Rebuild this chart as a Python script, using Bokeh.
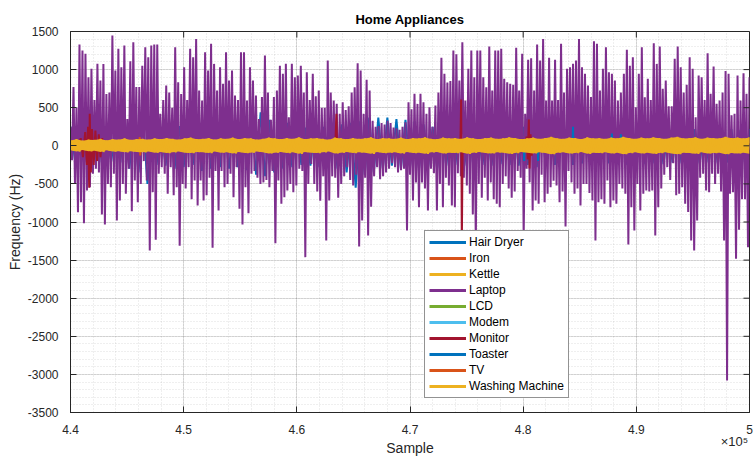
import numpy as np
from bokeh.plotting import figure
from bokeh.models import Range1d, FixedTicker, Legend, LegendItem, LinearAxis
from bokeh.embed import file_html
from bokeh.resources import INLINE

SAMPLE_START = 440000
SAMPLE_END = 500000
Y_MIN, Y_MAX = -3500, 1500

appliances = ["Hair Dryer", "Iron", "Kettle", "Laptop", "LCD", "Modem",
              "Monitor", "Toaster", "TV", "Washing Machine"]
colors = ["#0072BD", "#D95319", "#EDB120", "#7E2F8E", "#77AC30", "#4DBEEE",
          "#A2142F", "#0072BD", "#D95319", "#EDB120"]

x_ticks = [440000, 450000, 460000, 470000, 480000, 490000, 500000]
x_tick_labels = ["4.4", "4.5", "4.6", "4.7", "4.8", "4.9", "5"]
x_exponent_label = "×10⁵"
y_ticks = [-3500, -3000, -2500, -2000, -1500, -1000, -500, 0, 500, 1000, 1500]

# Laptop: positive / negative peak of each sample bin
laptop_hi = [
    250, 770, 500, 1329, 1250, 1207, 900, 1010, 600, 1075,
    857, 1075, 680, 700, 1447, 988, 1272, 1030, 1316, 350,
    1110, 1360, 770, 770, 1050, 1294, 1163, 1316, 1329, 1329,
    420, 600, 790, 700, 500, 1294, 835, 680, 1030, 600,
    1272, 1163, 1403, 725, 594, 1228, 988, 1338, 1075, 725,
    1030, 813, 1228, 857, 988, 660, 600, 1228, 1228, 594,
    1030, 857, 660, 350, 640, 1185, 700, 340, 640, 725,
    1050, 944, 1075, 375,
    1075, 900, 922, 1050, 700, 966, 600, 944, 650, 725,
    500, 500, 1119, 700, 594, 550, 419, 572, 470, 520,
    700, 769, 1084, 988, 420, 866, 725, 330, 250, 260,
    300, 280, 330, 300, 240, 230, 210, 250, 310, 572,
    480, 682, 550, 682, 572, 420, 507, 250, 530, 700,
    1154, 944, 830, 850, 1250, 1200, 857, 1360, 594, 1010,
    1250, 900, 1250, 1250, 900, 769, 1303, 725, 1250, 1250,
    1272, 880, 835,
    813, 800, 1285, 725, 1207, 420, 1128, 1150, 725, 1329,
    1119, 1403, 594, 1154, 594, 1128, 600, 1338, 700, 1010,
    1032, 1075, 1119, 1403, 1032, 944, 790, 640, 1373, 1338,
    725, 1010, 1294, 966, 944, 857, 594, 700, 944, 1259,
    1050, 1163, 507, 944, 1294, 638, 880, 600, 1346, 1075,
    1303, 750, 857, 520, 520, 1141, 1303, 1032, 700, 800,
    1163, 1010, 375, 922, 900, 600, 1215, 682, 1040, 550,
    594, 700, 980, 944, 400, 420, 922, 594, 953, 682,
    900,
]
laptop_lo = [
    -190, -500, -871, -740, -1015, -586, -543, -368, -300, -350,
    -901, -1033, -500, -543, -368, -980, -718, -500, -630, -300,
    -858, -455, -740, -500, -200, -455, -1374, -608, -1234, -368,
    -280, -368, -630, -280, -650, -543, -1312, -500, -560, -280,
    -700, -455, -783, -455, -718, -650, -420, -1339, -330, -849,
    -330, -543, -500, -368, -674, -280, -827, -1033, -543, -884,
    -368, -330, -420, -500, -480, -450, -543, -330, -1278, -455,
    -761, -674, -586, -500,
    -608, -520, -300, -330, -1461, -500, -240, -500, -600, -720,
    -400, -1243, -718, -400, -420, -680, -500, -400, -280, -450,
    -520, -380, -1321, -980, -420, -1177, -800, -400, -280, -440,
    -400, -350, -300, -230, -280, -350, -320, -300, -1111, -380,
    -718, -480, -805, -480, -560, -849, -300, -360, -849, -500,
    -805, -420, -520, -783, -805, -360, -400, -420, -520, -630,
    -900, -1300, -500, -680, -420, -718, -480, -700, -760, -805,
    -500, -400, -560,
    -680, -600, -330, -420, -1199, -300, -480, -849, -718, -761,
    -380, -740, -630, -543, -460, -520, -740, -600, -1059, -330,
    -480, -630, -560, -783, -500, -500, -620, -718, -1243, -740,
    -700, -761, -455, -805, -718, -761, -500, -560, -630, -1295,
    -805, -1111, -500, -849, -630, -586, -600, -586, -1177, -805,
    -560, -380, -280, -450, -230, -650, -630, -543, -761, -870,
    -1243, -1374, -980, -420, -368, -586, -610, -368, -500, -368,
    -600, -1243, -3080, -630, -610, -1483, -1100, -700, -700, -1330,
    -780,
]

hair_dryer_hi = [
    250, 200, 220, 230, 200, 240, 330, 300, 370, 250,
    230, 250, 260, 240, 270, 300, 280, 250, 260, 300,
    350, 440, 340, 280, 300, 260, 240, 230, 250, 260,
    280, 300, 320, 370, 370, 370, 350, 340, 320, 280,
    250, 240, 250, 230, 250, 240, 230, 250, 230, 240,
    250, 260, 250, 230, 240, 220, 250, 230, 240, 220,
    230, 250, 220, 230, 220, 230, 210, 220, 210, 220,
    210, 220, 210, 220, 210, 220,
]
hair_dryer_lo = [
    -190, -220, -200, -250, -200, -220, -300, -350, -500, -250,
    -260, -300, -280, -250, -330, -300, -280, -300, -280, -320,
    -380, -400, -350, -300, -280, -250, -260, -280, -300, -300,
    -350, -550, -380, -350, -300, -260, -300, -280, -300, -280,
    -300, -260, -250, -260, -270, -250, -260, -240, -250, -260,
    -250, -280, -250, -250, -240, -250, -230, -240, -250, -230,
    -240, -250, -230, -240, -230, -240, -220, -230, -220, -230,
    -220, -230, -220, -230, -220, -230,
]

iron_vals = [20, -25, 30, -20, 25, -30, 20, -25, 30, -20, 25, -20, 30, -25, 20, -30, 25, -20]
kettle_vals = [45, -40, 55, -50, 40, -45, 60, -50, 45, -55, 50, -40, 55, -45, 60, -50,
               45, -55, 50, -45, 55, -50, 60, -45, 50, -55, 45, -50, 55, -45]
lcd_vals = [15, -12, 18, -15, 12, -18, 15, -12, 18, -15, 12, -15, 18, -12]
modem_vals = [10, -12, 14, -10, 12, -14, 10, -12, 14, -10, 12, -10]

monitor_x = [440000, 440500, 440700, 440900, 441100, 441300, 441450, 441550, 441650,
             441700, 441800, 441900, 442050, 442200, 442350, 442500, 442650, 442800,
             443000, 443200, 463400, 463500, 463560, 463650, 474450, 474520, 474580,
             474650, 480000, 480150, 480300, 480400, 480500, 480560, 480650, 480750,
             480900, 481050, 500000]
monitor_y = [0, 30, -60, 100, -150, 180, -250, 250, -550,
             420, -350, 220, -250, 200, -200, 150, -150, 100,
             -60, 30, 20, 420, -60, 20, 20, 607, -1300,
             20, 30, -80, 120, -180, 345, -298, 150, -130,
             80, -40, 0]

toaster_x = [440000, 480050, 480090, 480130, 481280, 481320, 481360, 484360, 484405,
             484450, 487800, 487841, 487880, 488590, 488634, 488680, 500000]
toaster_y = [0, 0, -200, 0, 0, -200, 0, 0, 250, 0, 0, 160, 0, 0, 150, 0, 0]

tv_x = [440000, 446050, 446120, 446167, 446220, 446290, 500000]
tv_y = [0, 0, 113, -127, 60, 0, 0]

wm_hi = [
    70, 85, 65, 80, 75, 90, 70, 85, 80, 95,
    75, 85, 90, 80, 95, 85, 100, 90, 80, 95,
    105, 85, 90, 100, 80, 95, 90, 105, 85, 100,
    95, 80, 90, 105, 95, 85, 100, 90, 110, 85,
    95, 100, 90, 80, 105, 95, 85, 100, 90, 95,
    110, 85, 100, 95, 90, 105, 85, 100, 95, 110,
    90, 85, 105, 95, 100, 90, 110, 95, 85, 100,
    105, 90, 95, 110, 100, 85, 95, 105, 90, 100,
    115, 95, 90, 105, 100, 85, 110, 95, 100, 90,
    105, 95, 115, 100, 90, 105, 95, 110, 100, 90,
    105, 115, 95, 100, 110, 90, 105, 100, 95, 115,
    100, 105, 95, 110,
]
wm_lo = [
    -60, -75, -55, -70, -65, -80, -60, -75, -70, -85,
    -70, -80, -85, -75, -90, -80, -95, -85, -75, -90,
    -95, -80, -85, -95, -75, -90, -85, -100, -80, -95,
    -90, -75, -85, -100, -90, -80, -95, -85, -105, -80,
    -90, -95, -85, -75, -100, -90, -80, -95, -85, -90,
    -105, -80, -95, -90, -85, -100, -80, -95, -90, -105,
    -85, -80, -100, -90, -95, -85, -105, -90, -80, -95,
    -100, -85, -90, -105, -95, -80, -90, -100, -85, -95,
    -110, -90, -85, -100, -95, -80, -105, -90, -95, -85,
    -100, -90, -110, -95, -85, -100, -90, -105, -95, -85,
    -100, -110, -90, -95, -105, -85, -100, -95, -90, -110,
    -95, -100, -90, -105,
]


def zigzag(hi, lo):
    n = min(len(hi), len(lo))
    xs = np.linspace(SAMPLE_START, SAMPLE_END, n)
    step = (SAMPLE_END - SAMPLE_START) / (n - 1)
    X = np.empty(2 * n)
    Y = np.empty(2 * n)
    X[0::2] = xs
    X[1::2] = xs + step / 2
    Y[0::2] = np.asarray(hi[:n], float)
    Y[1::2] = np.asarray(lo[:n], float)
    return X, Y


def even(vals):
    return np.linspace(SAMPLE_START, SAMPLE_END, len(vals)), np.asarray(vals, float)


series = {
    "Hair Dryer": zigzag(hair_dryer_hi, hair_dryer_lo),
    "Iron": even(iron_vals),
    "Kettle": even(kettle_vals),
    "Laptop": zigzag(laptop_hi, laptop_lo),
    "LCD": even(lcd_vals),
    "Modem": even(modem_vals),
    "Monitor": (np.asarray(monitor_x, float), np.asarray(monitor_y, float)),
    "Toaster": (np.asarray(toaster_x, float), np.asarray(toaster_y, float)),
    "TV": (np.asarray(tv_x, float), np.asarray(tv_y, float)),
    "Washing Machine": zigzag(wm_hi, wm_lo),
}

FONT = "Liberation Sans"
AX = "#262626"

FRAME_W, FRAME_H = 679, 381
p = figure(width=753, height=458, frame_width=FRAME_W, frame_height=FRAME_H,
           x_range=Range1d(SAMPLE_START, SAMPLE_END), y_range=Range1d(Y_MIN, Y_MAX),
           output_backend="svg", toolbar_location=None,
           min_border_left=70, min_border_right=4, min_border_top=31, min_border_bottom=46,
           background_fill_color="white", border_fill_color="white")
p.outline_line_color = AX
p.outline_line_width = 1

p.title.text = "Home Appliances"
p.title.align = "center"
p.title.text_font = FONT
p.title.text_font_size = "13px"
p.title.text_font_style = "bold"
p.title.text_color = "#000000"
p.title.standoff = 9

x_minor = list(np.arange(SAMPLE_START, SAMPLE_END + 1, 2000))
y_minor = list(np.arange(Y_MIN, Y_MAX + 1, 100))
xt = FixedTicker(ticks=x_ticks, minor_ticks=x_minor)
yt = FixedTicker(ticks=y_ticks, minor_ticks=y_minor)

for ax in (p.xaxis[0], p.yaxis[0]):
    ax.major_tick_in = 6
    ax.major_tick_out = 0
    ax.minor_tick_line_color = None
    ax.axis_line_color = AX
    ax.major_tick_line_color = AX
    ax.major_label_text_font = FONT
    ax.major_label_text_font_size = "12px"
    ax.major_label_text_color = AX
    ax.axis_label_text_font = FONT
    ax.axis_label_text_font_size = "14px"
    ax.axis_label_text_font_style = "normal"
    ax.axis_label_text_color = AX

p.xaxis[0].ticker = xt
p.yaxis[0].ticker = yt
p.xaxis[0].major_label_overrides = {t: l for t, l in zip(x_ticks, x_tick_labels)}
p.yaxis[0].major_label_overrides = {t: str(t) for t in y_ticks}
p.xaxis[0].axis_label = "Sample"
p.yaxis[0].axis_label = "Frequency (Hz)"
p.xaxis[0].major_label_standoff = 8
p.xaxis[0].axis_label_standoff = 3
p.yaxis[0].major_label_standoff = 8
p.yaxis[0].axis_label_standoff = 2

# second "below" axis: only carries the x10^5 exponent note, pulled up beside "Sample"
exp_pos = SAMPLE_END - 15 * (SAMPLE_END - SAMPLE_START) / FRAME_W
ax2 = LinearAxis(ticker=FixedTicker(ticks=[exp_pos]),
                 major_label_overrides={exp_pos: x_exponent_label},
                 axis_line_color=None, major_tick_line_color=None, minor_tick_line_color=None,
                 major_tick_in=0, major_tick_out=0, major_label_standoff=-25,
                 major_label_text_font=FONT, major_label_text_font_size="13px",
                 major_label_text_color=AX)
p.add_layout(ax2, "below")

p.xgrid.ticker = xt
p.ygrid.ticker = yt
p.grid.grid_line_color = AX
p.grid.grid_line_alpha = 0.15
p.grid.minor_grid_line_color = AX
p.grid.minor_grid_line_alpha = 0.15
p.grid.minor_grid_line_dash = "1 2"

# series, in MATLAB plotting order
for name, color in zip(appliances, colors):
    xs, ys = series[name]
    if name == "Washing Machine":
        n = min(len(wm_hi), len(wm_lo))
        bx = np.linspace(SAMPLE_START, SAMPLE_END, n)
        p.varea(x=bx, y1=np.asarray(wm_lo[:n], float), y2=np.asarray(wm_hi[:n], float),
                fill_color=color, fill_alpha=1.0)
    p.line(xs, ys, line_color=color, line_width=2)

# mirrored tick marks on top and right edges (box on)
tick_len_y = 6 * (Y_MAX - Y_MIN) / FRAME_H
tick_len_x = 6 * (SAMPLE_END - SAMPLE_START) / FRAME_W
p.segment(x0=x_ticks, x1=x_ticks, y0=[Y_MAX] * len(x_ticks), y1=[Y_MAX - tick_len_y] * len(x_ticks),
          line_color=AX, line_width=1)
p.segment(x0=[SAMPLE_END] * len(y_ticks), x1=[SAMPLE_END - tick_len_x] * len(y_ticks),
          y0=y_ticks, y1=y_ticks, line_color=AX, line_width=1)

items = []
for name, color in zip(appliances, colors):
    r = p.line([np.nan], [np.nan], line_color=color, line_width=3)
    items.append(LegendItem(label=name, renderers=[r]))

legend = Legend(items=items, location=(354, 14),
                label_text_font=FONT, label_text_font_size="12px", label_text_color="#000000",
                glyph_width=37, glyph_height=14, label_height=14, label_standoff=3,
                spacing=2, padding=4, margin=0,
                border_line_color=AX, border_line_width=1,
                background_fill_color="white", background_fill_alpha=1.0)
p.add_layout(legend)

open("out.html", "w").write(file_html(p, INLINE))
